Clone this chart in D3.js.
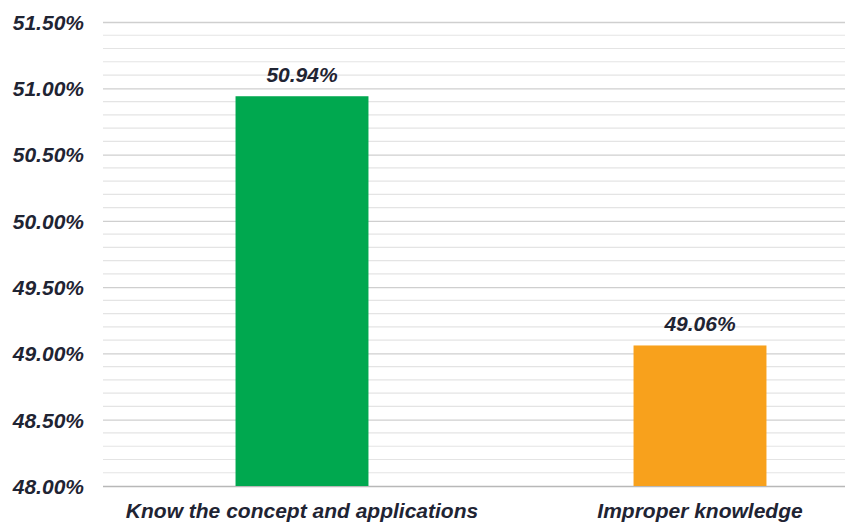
<!DOCTYPE html>
<html>
<head>
<meta charset="utf-8">
<script src="https://cdn.jsdelivr.net/npm/d3@7"></script>
<style>
  html, body { margin: 0; padding: 0; background: #ffffff; }
  svg { display: block; }
  text { font-family: "Liberation Sans", Arial, sans-serif; font-weight: bold; font-style: italic; fill: #1f2433; }
</style>
</head>
<body>
<svg id="chart" width="845" height="525"></svg>
<script>
// Survey result: awareness of the concept
const categories = ["Know the concept and applications", "Improper knowledge"];
const values = [50.94, 49.06];
const barColors = ["#00a84f", "#f8a11c"];
const yTicks = [48.0, 48.5, 49.0, 49.5, 50.0, 50.5, 51.0, 51.5];
const yMinorTicks = d3.range(480, 516, 1).map(v => v / 10).filter(v => Math.round(v * 10) % 5 !== 0);

const svg = d3.select("#chart");
const plotLeft = 103, plotRight = 899, plotTop = 22, plotBottom = 486;

const y = d3.scaleLinear().domain([48, 51.5]).range([plotBottom, plotTop]);
const x = d3.scaleBand().domain(categories).range([plotLeft, plotRight])
  .paddingInner(0.666).paddingOuter(0.333);

// minor gridlines
svg.append("g").selectAll("line").data(yMinorTicks).join("line")
  .attr("x1", plotLeft).attr("x2", 845)
  .attr("y1", d => y(d)).attr("y2", d => y(d))
  .attr("stroke", "#e4e4e4").attr("stroke-width", 1.2);

// major gridlines and tick labels
const yAxis = d3.axisLeft(y).tickValues(yTicks)
  .tickFormat(d => d3.format(".2f")(d) + "%")
  .tickSize(-(845 - plotLeft)).tickPadding(19);
const gy = svg.append("g").attr("transform", `translate(${plotLeft},0)`).call(yAxis);
gy.select(".domain").remove();
gy.selectAll(".tick line").attr("stroke", d => d === 48 ? "#b8b8b8" : "#cfcfcf").attr("stroke-width", 1.3);
gy.selectAll(".tick text").attr("font-size", 21).attr("fill", "#1f2433").attr("dy", "0.35em");

// bars
svg.append("g").selectAll("rect").data(values).join("rect")
  .attr("x", (d, i) => x(categories[i]))
  .attr("width", x.bandwidth())
  .attr("y", d => y(d))
  .attr("height", d => y(48) - y(d))
  .attr("fill", (d, i) => barColors[i]);

// value labels
svg.append("g").selectAll("text").data(values).join("text")
  .attr("x", (d, i) => x(categories[i]) + x.bandwidth() / 2)
  .attr("y", d => y(d) - 14)
  .attr("text-anchor", "middle")
  .attr("font-size", 21)
  .text(d => d3.format(".2f")(d) + "%");

// category labels
const xAxis = d3.axisBottom(x).tickSize(0).tickPadding(17);
const gx = svg.append("g").attr("transform", `translate(0,${plotBottom})`).call(xAxis);
gx.select(".domain").remove();
gx.selectAll(".tick text").attr("font-size", 21).attr("fill", "#1f2433");
</script>
</body>
</html>
